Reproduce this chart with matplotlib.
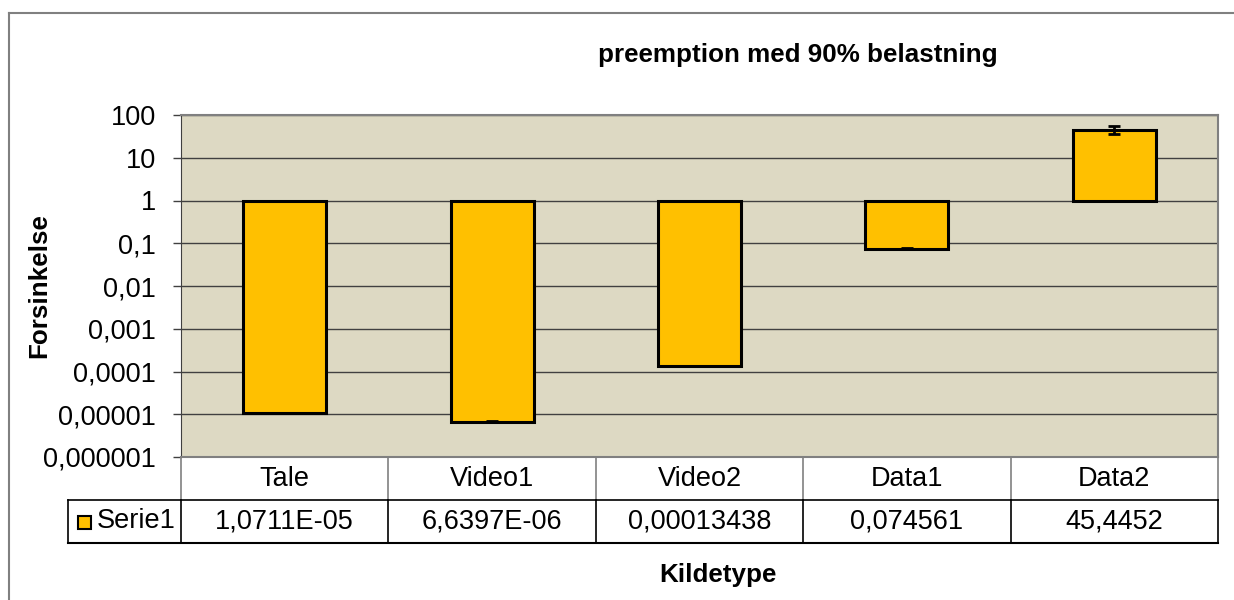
import matplotlib
matplotlib.use("Agg")
import matplotlib.pyplot as plt
from matplotlib.lines import Line2D
from matplotlib.patches import Rectangle
import numpy as np

plt.rcParams['font.family'] = ['Liberation Sans', 'DejaVu Sans']

# --- Daten ---
kategorien = ['Tale', 'Video1', 'Video2', 'Data1', 'Data2']
werte = [1.0711e-05, 6.6397e-06, 0.00013438, 0.074561, 45.4452]
wert_texte = ['1,0711E-05', '6,6397E-06', '0,00013438', '0,074561', '45,4452']
fehler = [2e-7, 1.3e-7, 2.5e-6, 0.003, 10.0]
y_ticks = [1e-6, 1e-5, 1e-4, 1e-3, 1e-2, 1e-1, 1, 10, 100]
y_tick_labels = ['0,000001', '0,00001', '0,0001', '0,001', '0,01', '0,1', '1', '10', '100']
serie_name = 'Serie1'

FS = 19.5      # Schriftgroesse Tabellen/Achsen
FS_B = 18.7    # fette Beschriftungen

W, H = 1234, 600
fig = plt.figure(figsize=(W / 100, H / 100), dpi=100)

# Plotbereich in Pixeln
x0, x1, y_top, y_bot = 181, 1218, 115, 457
ax = fig.add_axes([x0 / W, 1 - y_bot / H, (x1 - x0) / W, (y_bot - y_top) / H])
ax.set_facecolor('#DDD9C3')

x = np.arange(len(kategorien))
hoehen = [v - 1 for v in werte]
ax.bar(x, hoehen, bottom=1, width=0.4, color='#FFC000', edgecolor='black', linewidth=2.2, zorder=3)
ax.errorbar(x, werte, yerr=fehler, fmt='none', ecolor='black', elinewidth=2, capsize=4, capthick=2, zorder=4)

ax.set_yscale('log')
ax.set_ylim(1e-6, 100)
ax.set_xlim(-0.5, len(kategorien) - 0.5)
ax.set_yticks(y_ticks)
ax.set_yticklabels(y_tick_labels, fontsize=FS)
ax.minorticks_off()
ax.tick_params(axis='y', length=6, width=1, color='#404040', pad=12)
ax.set_xticks([])
ax.yaxis.grid(True, color='#404040', linewidth=1, zorder=1)
ax.set_axisbelow(True)
for s in ['top', 'right', 'bottom']:
    ax.spines[s].set_color('#808080')
    ax.spines[s].set_linewidth(1.5)
ax.spines['left'].set_color('#404040')

# --- Datentabelle ---
def fx(px):
    return px / W

def fy(py):
    return 1 - py / H

row1, row2, row3 = 457, 500, 543
col_w = (x1 - x0) / len(kategorien)
lx = 68
lines = []
# Kategoriezeile (graue Linien)
for i in range(len(kategorien) + 1):
    cx = x0 + i * col_w
    lines.append(Line2D([fx(cx), fx(cx)], [fy(row1), fy(row2)], color='#808080', lw=1.2))
# Wertzeile (schwarze Linien)
for i in range(len(kategorien) + 1):
    cx = x0 + i * col_w
    lines.append(Line2D([fx(cx), fx(cx)], [fy(row2), fy(row3)], color='black', lw=1.2))
lines.append(Line2D([fx(lx), fx(lx)], [fy(row2), fy(row3)], color='black', lw=1.2))
lines.append(Line2D([fx(lx), fx(x1)], [fy(row2), fy(row2)], color='black', lw=1.2))
lines.append(Line2D([fx(lx), fx(x1)], [fy(row3), fy(row3)], color='black', lw=1.5))
# Diagrammrahmen
lines.append(Line2D([fx(8.5), fx(8.5)], [fy(12.5), fy(600)], color='#808080', lw=1.5))
lines.append(Line2D([fx(8.5), fx(1234)], [fy(12.5), fy(12.5)], color='#808080', lw=1.5))
for ln in lines:
    fig.add_artist(ln)

for i, (k, t) in enumerate(zip(kategorien, wert_texte)):
    cx = x0 + (i + 0.5) * col_w
    fig.text(fx(cx), fy((row1 + row2) / 2), k, ha='center', va='center', fontsize=FS)
    fig.text(fx(cx), fy((row2 + row3) / 2), t, ha='center', va='center', fontsize=FS)

fig.add_artist(Rectangle((fx(78), fy(529)), 13 / W, 13 / H, facecolor='#FFC000',
                         edgecolor='black', linewidth=1.5))
fig.text(fx(97), fy((row2 + row3) / 2), serie_name, ha='left', va='center', fontsize=FS)

# --- Beschriftungen ---
fig.text(fx(798), fy(55), 'preemption med 90% belastning', ha='center', va='center',
         fontsize=FS_B, fontweight='bold')
fig.text(fx(39), fy(286), 'Forsinkelse', ha='center', va='center', rotation=90,
         fontsize=FS_B, fontweight='bold')
fig.text(fx(718), fy(575), 'Kildetype', ha='center', va='center', fontsize=FS_B, fontweight='bold')

fig.savefig('out.png', dpi=100)
